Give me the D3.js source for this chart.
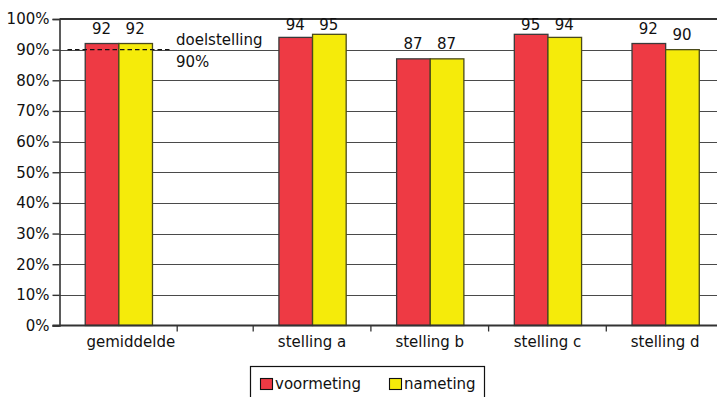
<!DOCTYPE html>
<html>
<head>
<meta charset="utf-8">
<script src="https://cdn.jsdelivr.net/npm/d3@7"></script>
<style>
  html, body { margin: 0; padding: 0; background: #fff; }
  svg text { font-family: "DejaVu Sans", sans-serif; fill: #111; }
</style>
</head>
<body>
<svg id="chart" width="717" height="397"></svg>
<script>
// Categories (the empty slot after "gemiddelde" is left blank on purpose)
const categories = ["gemiddelde", "stelling a", "stelling b", "stelling c", "stelling d"];
const seriesNames = ["voormeting", "nameting"];
const voormeting = [92, 94, 87, 95, 92];
const nameting = [92, 95, 87, 94, 90];
const yTicks = [0, 10, 20, 30, 40, 50, 60, 70, 80, 90, 100];
const target = 90;
const targetLabel = ["doelstelling", "90%"];
const colors = ["#ee3a44", "#f5eb0a"];

const svg = d3.select("#chart");

const plotLeft = 59.5, plotRight = 717, plotTop = 19, plotBottom = 325.5;
const bandW = 117.7;      // width of one category slot
const gapW = 76;          // blank slot between "gemiddelde" and the statements

const y = d3.scaleLinear().domain([0, 100]).range([plotBottom, plotTop]);

// band scale over one slot per category; everything after the first is shifted by the blank slot
const band = d3.scaleBand().domain(categories).range([plotLeft, plotLeft + bandW * categories.length]);
const xStart = c => band(c) + (categories.indexOf(c) > 0 ? gapW : 0);
const inner = d3.scaleBand().domain(seriesNames).range([0, bandW]).paddingInner(0).paddingOuter(0.75);

// horizontal gridlines
svg.append("g").selectAll("line").data(yTicks.filter(t => t > 0 && t < 100)).join("line")
  .attr("x1", plotLeft).attr("x2", plotRight)
  .attr("y1", d => Math.round(y(d)) + 0.5).attr("y2", d => Math.round(y(d)) + 0.5)
  .attr("stroke", "#4a4a4a").attr("stroke-width", 1.2);

// top border
svg.append("line").attr("x1", plotLeft).attr("x2", plotRight)
  .attr("y1", y(100)).attr("y2", y(100)).attr("stroke", "#333").attr("stroke-width", 2);

// y axis
const yAxis = d3.axisLeft(y).tickValues(yTicks).tickSize(7).tickPadding(3)
  .tickFormat(d => d + "%");
const gy = svg.append("g").attr("transform", `translate(${plotLeft},0)`).call(yAxis);
gy.select(".domain").attr("stroke", "#333").attr("stroke-width", 1.6);
gy.selectAll(".tick line").attr("stroke", "#333").attr("stroke-width", 1.4);
gy.selectAll(".tick text").attr("font-size", 15).attr("font-family", "DejaVu Sans, sans-serif")
  .attr("fill", "#111");

// bars
const series = [voormeting, nameting];
const groups = svg.append("g").selectAll("g").data(categories).join("g")
  .attr("transform", c => `translate(${xStart(c)},0)`);

groups.selectAll("rect").data((c, i) => series.map((s, k) => ({ name: seriesNames[k], v: s[i], k })))
  .join("rect")
  .attr("x", d => inner(d.name) + 0.5)
  .attr("width", inner.bandwidth())
  .attr("y", d => y(d.v))
  .attr("height", d => y(0) - y(d.v))
  .attr("fill", d => colors[d.k])
  .attr("stroke", d => d.k === 0 ? "#3a3a3a" : "#4a4a1a")
  .attr("stroke-width", 1.3);

// value labels (kept inside the plot near the top border)
groups.selectAll("text.val").data((c, i) => series.map((s, k) => ({ name: seriesNames[k], v: s[i] })))
  .join("text").attr("class", "val")
  .attr("x", d => inner(d.name) + inner.bandwidth() / 2)
  .attr("y", d => Math.max(y(d.v) - 10, 29.5))
  .attr("text-anchor", "middle").attr("font-size", 15)
  .text(d => d.v);

// x axis line and tick marks between category slots
svg.append("line").attr("x1", plotLeft - 7).attr("x2", plotRight).attr("y1", plotBottom).attr("y2", plotBottom)
  .attr("stroke", "#333").attr("stroke-width", 2);
const tickXs = [band(categories[0]) + bandW].concat(categories.slice(1).map(c => xStart(c)));
tickXs.push(xStart(categories[categories.length - 1]) + bandW);
svg.append("g").selectAll("line").data(tickXs).join("line")
  .attr("x1", d => d).attr("x2", d => d).attr("y1", plotBottom).attr("y2", plotBottom + 6)
  .attr("stroke", "#333").attr("stroke-width", 1.3);

// category labels; the first one leans toward the blank slot beside it
svg.append("g").selectAll("text").data(categories).join("text")
  .attr("x", (c, i) => xStart(c) + bandW / 2 + (i === 0 ? 12.5 : 0))
  .attr("y", 347)
  .attr("text-anchor", "middle").attr("font-size", 15)
  .text(c => c);

// target line
svg.append("line")
  .attr("x1", plotLeft + 8).attr("x2", xStart(categories[0]) + bandW - 7)
  .attr("y1", y(target)).attr("y2", y(target))
  .attr("stroke", "#111").attr("stroke-width", 1.3).attr("stroke-dasharray", "4.5,3");
svg.append("text").attr("x", 176).attr("y", 45).attr("font-size", 15).text(targetLabel[0]);
svg.append("text").attr("x", 176).attr("y", 67).attr("font-size", 15).text(targetLabel[1]);

// legend
const lg = svg.append("g");
lg.append("rect").attr("x", 250.5).attr("y", 366.5).attr("width", 234).attr("height", 40)
  .attr("fill", "#fff").attr("stroke", "#111").attr("stroke-width", 1.2);
const legendX = [260, 389];
seriesNames.forEach((n, k) => {
  lg.append("rect").attr("x", legendX[k] + 0.5).attr("y", 378.5).attr("width", 12).attr("height", 11)
    .attr("fill", colors[k]).attr("stroke", "#111").attr("stroke-width", 1.1);
  lg.append("text").attr("x", legendX[k] + 15).attr("y", 389).attr("font-size", 15).text(n);
});
</script>
</body>
</html>
